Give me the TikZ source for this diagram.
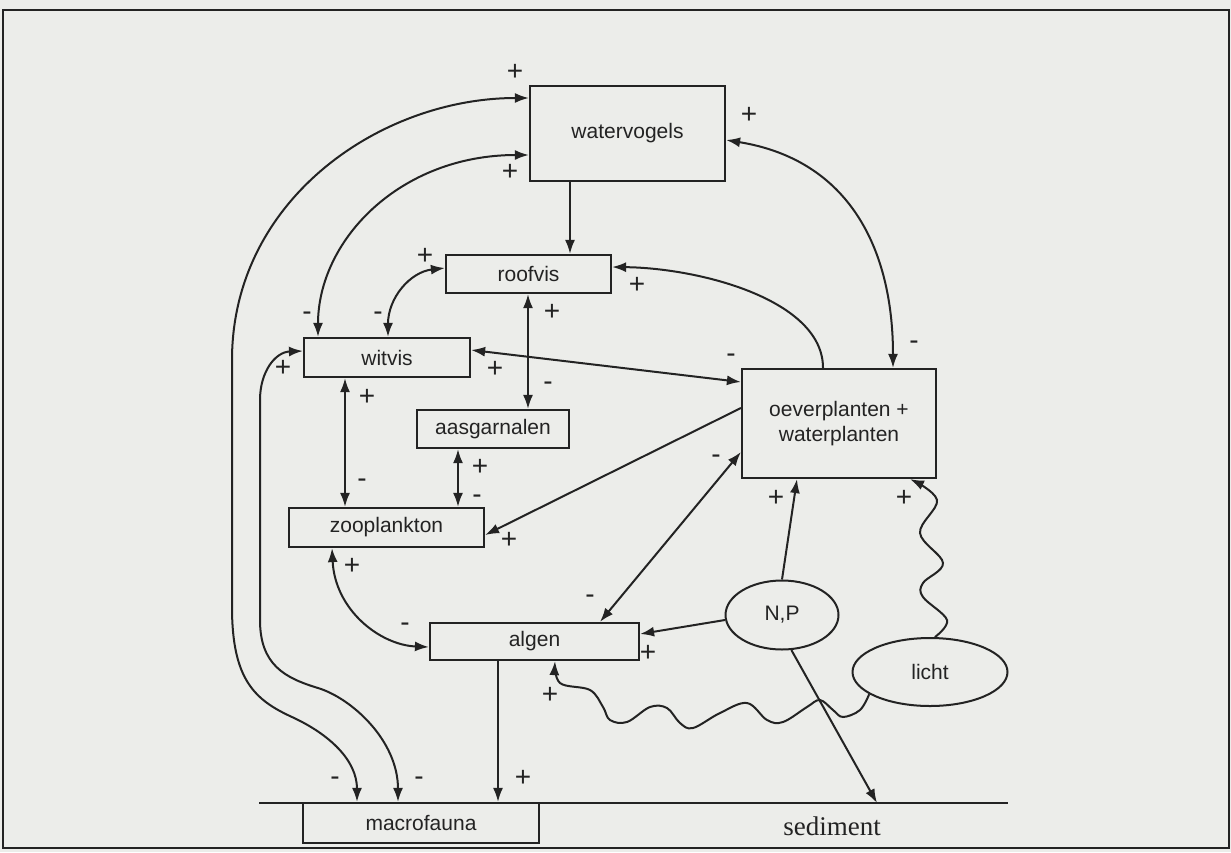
\documentclass[tikz,border=0pt]{standalone}
\usepackage{fontspec}
\setmainfont{Liberation Sans}
\newfontfamily\sedfont{Liberation Serif}
\usetikzlibrary{arrows.meta,shapes.geometric}
\definecolor{paper}{RGB}{236,237,234}
\definecolor{ink}{RGB}{35,35,35}
\tikzset{
  box/.style={draw=ink, line width=1.1pt, rectangle, inner sep=0pt,
    font=\fontsize{10.5}{12.5}\selectfont, text=ink, align=center},
  oval/.style={draw=ink, line width=1pt, ellipse, inner sep=0pt,
    font=\fontsize{10.5}{12}\selectfont, text=ink},
  link/.style={draw=ink, line width=1pt, -{Latex[length=7pt,width=5pt]}},
  both/.style={link, {Latex[length=7pt,width=5pt]}-{Latex[length=7pt,width=5pt]}},
  sign/.style={font=\fontsize{14}{14}\selectfont, text=ink, inner sep=0pt},
}
\begin{document}
\begin{tikzpicture}[x=0.5pt, y=-0.5pt]
  \fill[paper] (0,0) rectangle (1231,852);
  \draw[ink, line width=1.2pt] (3,10) rectangle (1229,848);

  % boxes
  \node[box, minimum width=97.5pt, minimum height=47.5pt] (watervogels) at (627.5,133.5) {watervogels};
  \node[box, minimum width=82.5pt, minimum height=19pt] (roofvis) at (528.5,274) {roofvis};
  \node[box, minimum width=83pt, minimum height=19.5pt] (witvis) at (387,357.5) {witvis};
  \node[box, minimum width=76pt, minimum height=19pt] (aasgarnalen) at (493,429) {aasgarnalen};
  \node[box, minimum width=97.5pt, minimum height=19.5pt] (zooplankton) at (386.5,527.5) {zooplankton};
  \node[box, minimum width=97pt, minimum height=54.5pt] (oeverplanten) at (839,423.5) {oeverplanten +\\waterplanten};
  \node[box, minimum width=104.5pt, minimum height=18.5pt] (algen) at (534.5,641.5) {algen};
  \node[box, minimum width=118pt, minimum height=20pt] (macrofauna) at (421,823) {macrofauna};
  \node[oval, minimum width=56.5pt, minimum height=34.5pt] (NP) at (782,615) {N,P};
  \node[oval, minimum width=77.5pt, minimum height=34pt] (licht) at (930,672) {licht};

  % sediment
  \coordinate (sedL) at (259,803);
  \coordinate (sedR) at (1008,803);
  \draw[ink, line width=1pt] (sedL) -- (sedR);
  \node[text=ink, font=\sedfont\fontsize{13.5}{14}\selectfont] (sediment) at (832,826) {sediment};

  % connectors
  \draw[both] (watervogels.west |- 0,98) .. controls (380,98) and (232,200) .. (232,360)
    -- (232,607) .. controls (232,680) and (255,700) .. (292,717)
    .. controls (329,734) and (357,760) .. (macrofauna.north -| 357,0);
  \draw[both] (witvis.west |- 0,351) .. controls (275,352) and (260,372) .. (260,400)
    -- (260,620) .. controls (260,665) and (285,678) .. (318,688)
    .. controls (351,698) and (398,740) .. (macrofauna.north -| 398,0);
  \draw[both] (watervogels.west |- 0,155) .. controls (400,155) and (318,240) .. (witvis.north -| 318,0);
  \draw[both] (roofvis.west |- 0,268) .. controls (410,272) and (388,298) .. (witvis.north -| 388,0);
  \draw[link] (watervogels.south -| 570,0) -- (roofvis.north -| 570,0);
  \draw[both] (roofvis.south -| 528,0) -- (aasgarnalen.north -| 528,0);
  \draw[both] (witvis.east |- 0,350) -- (oeverplanten.west |- 0,382);
  \draw[link] (oeverplanten.north -| 823,0) .. controls (823,300) and (700,268) .. (roofvis.east |- 0,267);
  \draw[both] (watervogels.east |- 0,140) .. controls (850,160) and (893,250) .. (oeverplanten.north -| 893,0);
  \draw[both] (witvis.south -| 345,0) -- (zooplankton.north -| 345,0);
  \draw[both] (aasgarnalen.south -| 458,0) -- (zooplankton.north -| 458,0);
  \draw[link] (oeverplanten.west |- 0,408) -- (zooplankton.east |- 0,535);
  \draw[both] (zooplankton.south -| 332,0) .. controls (335,610) and (380,645) .. (algen.west |- 0,647);
  \draw[both] (algen.north -| 600,0) -- (oeverplanten.west |- 0,452);
  \draw[link] (NP.185) -- (algen.east |- 0,634);
  \draw[link] (NP.north -| 782,0) -- (oeverplanten.south -| 797,0);
  \coordinate (sink) at (877,803);
  \draw[link] (NP.-75) -- (sink);
  \draw[link] plot[smooth, tension=0.6] coordinates {(licht.82) (947,620) (923,597) (923,583)
    (943,563) (920,533) (937,500) (oeverplanten.south -| 910,0)};
  \draw[link] plot[smooth, tension=0.6] coordinates {(licht.200) (860,710) (843,717) (833,710)
    (820,700) (807,707) (783,722) (767,720) (747,703) (720,713) (693,728) (680,723) (667,708)
    (650,707) (627,722) (610,720) (603,707) (590,690) (560,683) (algen.south -| 555,0)};
  \draw[link] (algen.south -| 498,0) -- (macrofauna.north -| 498,0);

  % signs
  \foreach \x/\y/\s [count=\i] in {515/72/+, 510/172/+, 749/115/+, 425/256/+, 637/285/+,
      552/312/+, 307/316/-, 378/316/-, 548/386/-, 495/369/+, 731/358/-, 914/345/-,
      283/368/+, 367/397/+, 362/483/-, 480/467/+, 477/499/-, 509/540/+, 716/459/-,
      352/566/+, 405/627/-, 590/599/-, 648/653/+, 776/498/+, 904/498/+, 550/695/+,
      335/781/-, 419/781/-, 523/778/+}
    \node[sign] (sign\i) at (\x,\y) {\s};
\end{tikzpicture}
\end{document}
